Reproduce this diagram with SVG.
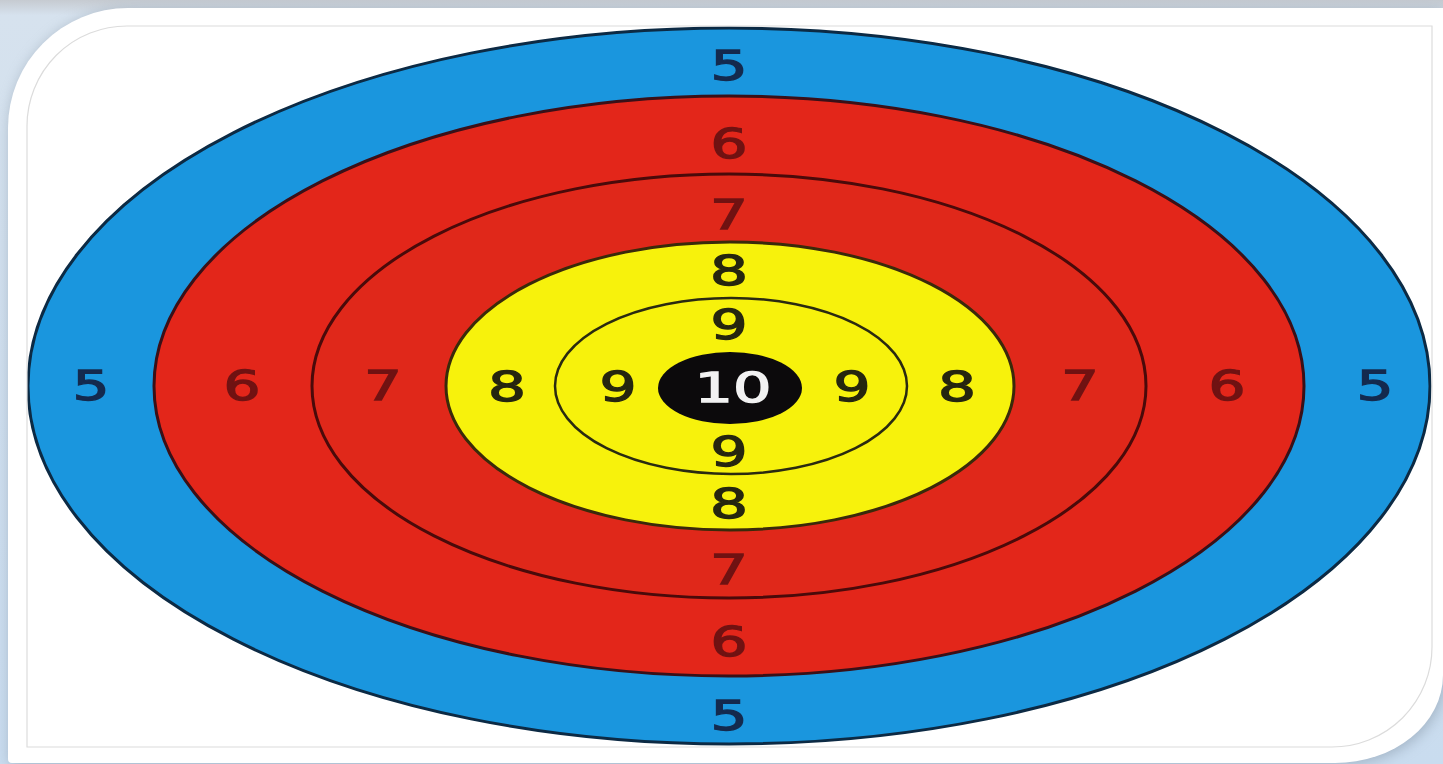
<svg xmlns="http://www.w3.org/2000/svg" width="1443" height="764" viewBox="0 0 1443 764">
<defs>
<linearGradient id="bg" x1="0" y1="0" x2="0" y2="1">
<stop offset="0" stop-color="#c6cbd1"/>
<stop offset="0.02" stop-color="#d6e2ee"/>
<stop offset="1" stop-color="#c9dcef"/>
</linearGradient>
<filter id="sh" x="-5%" y="-5%" width="110%" height="110%">
<feGaussianBlur stdDeviation="7"/>
</filter>
<clipPath id="inner">
<path d="M27,126 A100,100 0 0 1 127,26 L1432,26 L1432,647 A100,100 0 0 1 1332,747 L27,747 Z"/>
</clipPath>
<style>
.d{font-family:"DejaVu Sans","Liberation Sans",sans-serif;font-size:40px;text-anchor:middle;stroke-width:1.3px}
.c5{fill:#142a4e;stroke:#142a4e}
.c6{fill:#701212;stroke:#701212}
.c8{fill:#26260f;stroke:#26260f}
.c10{fill:#f2f2f2;stroke:#f2f2f2}
</style>
</defs>
<rect x="0" y="0" width="1443" height="764" fill="url(#bg)"/>
<path d="M8,128 A120,120 0 0 1 128,8 L1443,8 L1443,675 A108,88 0 0 1 1335,763 L12,763 Q8,763 8,759 Z" fill="#7f8f9f" opacity="0.55" filter="url(#sh)" transform="translate(2,2)"/>
<path id="panel" d="M8,128 A120,120 0 0 1 128,8 L1443,8 L1443,675 A108,88 0 0 1 1335,763 L12,763 Q8,763 8,759 Z" fill="#ffffff"/>
<g clip-path="url(#inner)">
<g id="ring5"><ellipse cx="729" cy="386" rx="701" ry="358" fill="#1a96de" stroke="#0c2a44" stroke-width="3"/></g>
<g id="ring6"><ellipse cx="729" cy="386" rx="575" ry="290" fill="#e3261a" stroke="#3a1018" stroke-width="3"/></g>
<g id="ring7"><ellipse cx="729" cy="386" rx="417" ry="212" fill="#e0281a" stroke="#4a0a0a" stroke-width="3"/></g>
<g id="ring8"><ellipse cx="730" cy="386" rx="284" ry="144" fill="#f7f20c" stroke="#3a2a0a" stroke-width="3"/></g>
<g id="ring9"><ellipse cx="731" cy="386" rx="176" ry="88" fill="none" stroke="#2a2a10" stroke-width="2.5"/></g>
<g id="ring10"><ellipse cx="730" cy="388" rx="72" ry="36" fill="#0c0a0c"/></g>
</g>
<path d="M27,126 A100,100 0 0 1 127,26 L1432,26 L1432,647 A100,100 0 0 1 1332,747 L27,747 Z" fill="none" stroke="#dcdcdc" stroke-width="1.2"/>
<g id="labels">
<text class="d c5" x="729" y="80" textLength="37" lengthAdjust="spacingAndGlyphs">5</text>
<text class="d c5" x="91" y="400" textLength="37" lengthAdjust="spacingAndGlyphs">5</text>
<text class="d c5" x="1375" y="400" textLength="37" lengthAdjust="spacingAndGlyphs">5</text>
<text class="d c5" x="729" y="730" textLength="37" lengthAdjust="spacingAndGlyphs">5</text>
<text class="d c6" x="729" y="158" textLength="37" lengthAdjust="spacingAndGlyphs">6</text>
<text class="d c6" x="242" y="400" textLength="37" lengthAdjust="spacingAndGlyphs">6</text>
<text class="d c6" x="1227" y="400" textLength="37" lengthAdjust="spacingAndGlyphs">6</text>
<text class="d c6" x="729" y="656" textLength="37" lengthAdjust="spacingAndGlyphs">6</text>
<text class="d c6" x="729" y="229" textLength="38" lengthAdjust="spacingAndGlyphs">7</text>
<text class="d c6" x="383" y="400" textLength="38" lengthAdjust="spacingAndGlyphs">7</text>
<text class="d c6" x="1080" y="400" textLength="38" lengthAdjust="spacingAndGlyphs">7</text>
<text class="d c6" x="729" y="584" textLength="38" lengthAdjust="spacingAndGlyphs">7</text>
<text class="d c8" x="729" y="285" textLength="38" lengthAdjust="spacingAndGlyphs">8</text>
<text class="d c8" x="507" y="401" textLength="38" lengthAdjust="spacingAndGlyphs">8</text>
<text class="d c8" x="957" y="401" textLength="38" lengthAdjust="spacingAndGlyphs">8</text>
<text class="d c8" x="729" y="518" textLength="38" lengthAdjust="spacingAndGlyphs">8</text>
<text class="d c8" x="729" y="339" textLength="37" lengthAdjust="spacingAndGlyphs">9</text>
<text class="d c8" x="618" y="401" textLength="37" lengthAdjust="spacingAndGlyphs">9</text>
<text class="d c8" x="852" y="401" textLength="37" lengthAdjust="spacingAndGlyphs">9</text>
<text class="d c8" x="729" y="466" textLength="37" lengthAdjust="spacingAndGlyphs">9</text>
<text class="d c10" x="733" y="402" textLength="77" lengthAdjust="spacingAndGlyphs">10</text>
</g>
</svg>
